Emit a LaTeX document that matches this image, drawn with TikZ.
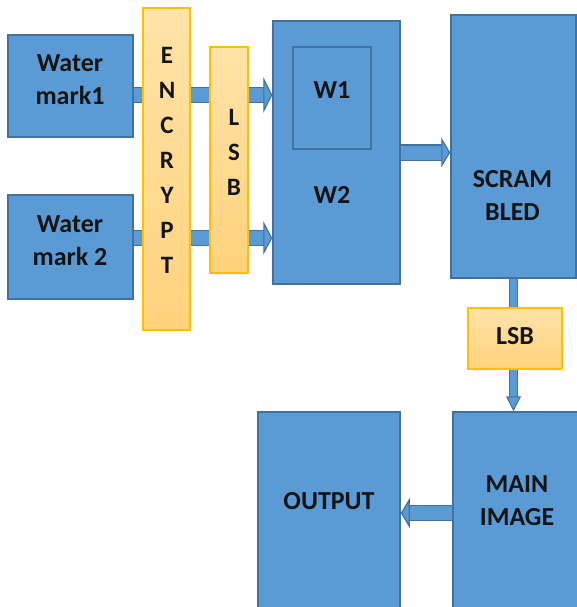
\documentclass[tikz,border=0pt]{standalone}
\usepackage{fontspec}
\setmainfont{Carlito}
\usetikzlibrary{arrows.meta,backgrounds,positioning}
\definecolor{boxfill}{HTML}{5B9BD5}
\definecolor{boxline}{HTML}{41719C}
\definecolor{bartop}{HTML}{FFE3A8}
\definecolor{barbot}{HTML}{FFD27C}
\definecolor{barline}{HTML}{FFC000}
\definecolor{ink}{HTML}{141414}
\tikzset{
 bluebox/.style={draw=boxline, fill=boxfill, line width=1.5pt, inner sep=0pt},
 barbox/.style={draw=barline, top color=bartop, bottom color=barbot, line width=1.5pt, inner sep=0pt},
 bigtxt/.style={text=ink, font=\bfseries\fontsize{26}{33}\selectfont, align=center, inner sep=0pt},
 bartxt/.style={text=ink, font=\bfseries\fontsize{25}{35}\selectfont, align=center, inner sep=0pt},
 fatarrow/.style={draw=boxfill, line width=14pt,
   -{Triangle[width=#1,length=9pt,line width=1.2pt,fill=boxfill,color=boxline]},
   preaction={draw=boxline, line width=16.5pt, arrows=-, shorten >=8pt}},
 fatarrow/.default=32pt,
 thinline/.style={draw=boxfill, line width=6.5pt,
   preaction={draw=boxline, line width=8.5pt}},
 thinarrow/.style={draw=boxfill, line width=6.5pt,
   -{Triangle[width=15pt,length=15pt,line width=1pt,fill=boxfill,color=boxline]},
   preaction={draw=boxline, line width=8.5pt, arrows=-, shorten >=14pt}},
}

\begin{document}
\begin{tikzpicture}[x=1pt, y=-1pt]
 \useasboundingbox (0,0) rectangle (577,607);
 \clip (0,0) rectangle (577,607);
 % blue blocks
 \node[bluebox, minimum width=125pt, minimum height=102pt] (wmA) at (70.5,86) {};
 \node[bluebox, minimum width=125pt, minimum height=104pt] (wmB) at (70.5,247) {};
 \node[bluebox, minimum width=127pt, minimum height=263pt] (wtwo) at (336.5,152.5) {};
 \node[bluebox, minimum width=78pt, minimum height=102pt] (wone) at (332,98) {};
 \node[bluebox, minimum width=125pt, minimum height=263pt] (scram) at (513.5,146.5) {};
 \node[bluebox, minimum width=130pt, minimum height=220pt] (mainimg) at (518,522) {};
 \node[bluebox, minimum width=142pt, minimum height=220pt] (output) at (329,522) {};
 % orange bars
 \node[barbox, minimum width=47pt, minimum height=322pt] (encrypt) at (166.5,169) {};
 \node[barbox, minimum width=38pt, minimum height=226pt] (lsbA) at (229,160) {};
 \node[barbox, minimum width=94pt, minimum height=61pt] (lsbB) at (515,338.5) {};

 % labels
 \node[bigtxt] (wmAtxt) at (70,80) {Water\\mark1};
 \node[bigtxt] (wmBtxt) at (70,241) {Water\\mark 2};
 \node[bigtxt] (wonetxt) at (332,90) {W1};
 \node[bigtxt] (wtwotxt) at (332,195) {W2};
 \node[bigtxt] (scramtxt) at (512.5,195) {SCRAM\\BLED};
 \node[bigtxt] (lsbBtxt) at (515,336) {LSB};
 \node[bigtxt] (mainimgtxt) at (517,500.5) {MAIN\\IMAGE};
 \node[bigtxt] (outputtxt) at (329,501) {OUTPUT};
 \node[bartxt] (encrypttxt) at (167,160) {E\\N\\C\\R\\Y\\P\\T};
 \node[bartxt] (lsbAtxt) at (234,152) {L\\S\\B};

 % connectors
 \coordinate (inA) at ([yshift=-9pt]wmA.east);
 \coordinate (inB) at ([yshift=9pt]wmB.east);
 \coordinate (outM) at ([yshift=9pt]mainimg.west);
 \begin{scope}[on background layer]
  \draw[fatarrow=36pt] (inA) -- (inA -| wtwo.west);
  \draw[fatarrow=34pt] (inB) -- (inB -| wtwo.west);
  \draw[fatarrow=30pt] (wtwo.east) -- (wtwo.east -| scram.west);
  \draw[thinline] (scram.south) -- (scram.south |- lsbB.north);
  \draw[thinarrow] (scram.south |- lsbB.south) -- (scram.south |- mainimg.north);
  \draw[fatarrow=30pt] (outM) -- (outM -| output.east);
 \end{scope}
\end{tikzpicture}
\end{document}
